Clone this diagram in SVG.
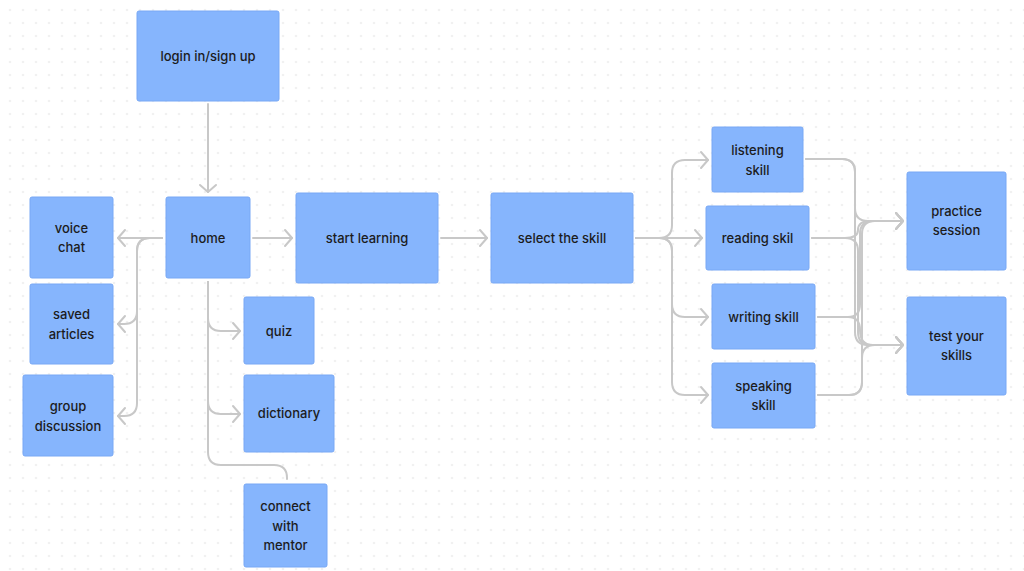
<svg xmlns="http://www.w3.org/2000/svg" width="1024" height="571" viewBox="0 0 1024 571">
<defs>
<pattern id="dots" x="3.5" y="3.5" width="13" height="13" patternUnits="userSpaceOnUse">
<circle cx="6.5" cy="6.5" r="0.8" fill="#d4d4d4"/>
</pattern>
<marker id="arr" markerUnits="userSpaceOnUse" markerWidth="20" markerHeight="20" viewBox="-10 -10 20 20" refX="0" refY="0" orient="auto">
<path d="M-7,-8 L0,0 L-7,8" fill="none" stroke="#c8c8c8" stroke-width="2" stroke-linejoin="round" stroke-linecap="round"/>
</marker>
</defs>
<style>
.n rect{fill:#86b5fd;stroke:#78a8f5;stroke-width:1}
.n text{font-family:Inter,"Liberation Sans",sans-serif;font-size:13px;font-weight:500;fill:#1c1c1c;text-anchor:middle}
.c path{fill:none;stroke:#c8c8c8;stroke-width:2;stroke-linecap:round}
.c .a{marker-end:url(#arr)}
</style>
<rect width="1024" height="571" fill="#ffffff"/>
<rect width="1024" height="571" fill="url(#dots)"/>
<g class="c" id="connectors">
<path class="a" d="M208,104 V192"/>
<path class="a" d="M162,238 H118"/>
<path class="a" d="M162,238 H150 Q137,238 137,251 V311 Q137,324 124,324 H118"/>
<path class="a" d="M162,238 H150 Q137,238 137,251 V403 Q137,416 124,416 H118"/>
<path class="a" d="M253,238 H292"/>
<path class="a" d="M208,282 V318 Q208,331 221,331 H240"/>
<path class="a" d="M208,282 V401 Q208,414 221,414 H240"/>
<path d="M208,282 V452 Q208,465 221,465 H274 Q287,465 287,478 V479"/>
<path class="a" d="M441,238 H487"/>
<path class="a" d="M636,238 H659 Q672,238 672,225 V173 Q672,160 685,160 H708"/>
<path class="a" d="M636,238 H702"/>
<path class="a" d="M636,238 H659 Q672,238 672,251 V304 Q672,317 685,317 H708"/>
<path class="a" d="M636,238 H659 Q672,238 672,251 V382 Q672,395 685,395 H708"/>
<path class="a" d="M806,159 H842 Q855,159 855,172 V208 Q855,221 868,221 H903"/>
<path class="a" d="M806,159 H842 Q855,159 855,172 V332 Q855,345 868,345 H903"/>
<path class="a" d="M812,238 H845 Q858,238 858,230 Q858,221 870,221 H903"/>
<path class="a" d="M812,238 H845 Q858,238 858,251 V332 Q858,345 871,345 H903"/>
<path class="a" d="M818,317 H848 Q860,317 860,304 V234 Q860,221 873,221 H903"/>
<path class="a" d="M818,317 H848 Q860,317 860,330 Q860,345 873,345 H903"/>
<path class="a" d="M818,395 H849 Q862,395 862,382 V234 Q862,221 875,221 H903"/>
<path class="a" d="M818,395 H849 Q862,395 862,382 V358 Q862,345 875,345 H903"/>
</g>
<g class="n" id="login"><rect x="137" y="11" width="142" height="90" rx="2"/><text x="208" y="61">login in/sign up</text></g>
<g class="n" id="home"><rect x="166" y="197" width="84" height="81" rx="2"/><text x="208" y="243">home</text></g>
<g class="n" id="start"><rect x="296" y="193" width="142" height="90" rx="2"/><text x="367" y="243">start learning</text></g>
<g class="n" id="select"><rect x="491" y="193" width="142" height="90" rx="2"/><text x="562" y="243">select the skill</text></g>
<g class="n" id="voice"><rect x="30" y="197" width="83" height="81" rx="2"/><text x="71.5" y="233">voice</text><text x="71.5" y="252">chat</text></g>
<g class="n" id="saved"><rect x="30" y="284" width="83" height="80" rx="2"/><text x="71.5" y="319">saved</text><text x="71.5" y="339">articles</text></g>
<g class="n" id="group"><rect x="23" y="375" width="90" height="81" rx="2"/><text x="68" y="411">group</text><text x="68" y="431">discussion</text></g>
<g class="n" id="quiz"><rect x="244" y="297" width="70" height="67" rx="2"/><text x="279" y="336">quiz</text></g>
<g class="n" id="dictionary"><rect x="244" y="375" width="90" height="77" rx="2"/><text x="289" y="418">dictionary</text></g>
<g class="n" id="mentor"><rect x="244" y="484" width="83" height="83" rx="2"/><text x="285.5" y="511">connect</text><text x="285.5" y="531">with</text><text x="285.5" y="550">mentor</text></g>
<g class="n" id="listening"><rect x="712" y="127" width="91" height="65" rx="2"/><text x="757.5" y="155">listening</text><text x="757.5" y="175">skill</text></g>
<g class="n" id="reading"><rect x="706" y="206" width="103" height="64" rx="2"/><text x="757.5" y="243">reading skil</text></g>
<g class="n" id="writing"><rect x="712" y="284" width="103" height="65" rx="2"/><text x="763.5" y="322">writing skill</text></g>
<g class="n" id="speaking"><rect x="712" y="363" width="103" height="65" rx="2"/><text x="763.5" y="391">speaking</text><text x="763.5" y="410">skill</text></g>
<g class="n" id="practice"><rect x="907" y="172" width="99" height="98" rx="2"/><text x="956.5" y="216">practice</text><text x="956.5" y="235">session</text></g>
<g class="n" id="test"><rect x="907" y="297" width="99" height="98" rx="2"/><text x="956.5" y="341">test your</text><text x="956.5" y="360">skills</text></g>
</svg>
